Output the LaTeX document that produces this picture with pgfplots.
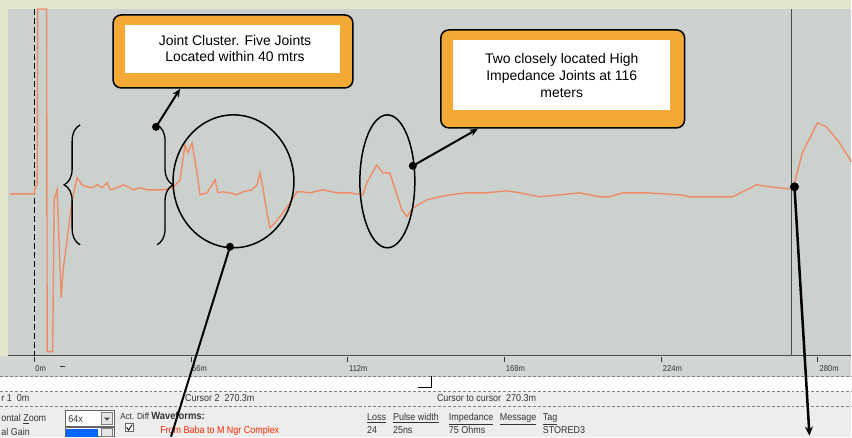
\documentclass[border=0pt]{standalone}
\usepackage{pgfplots}
\pgfplotsset{compat=1.18}
\usepackage{pgfplotstable}
\usepackage{fontspec}
\setmainfont{Liberation Sans}
\newfontfamily\narrow[FakeStretch=0.9]{Liberation Sans}
\usetikzlibrary{decorations.pathreplacing,arrows.meta}

\definecolor{outerbg}{HTML}{E3E6CC}
\definecolor{plotbg}{HTML}{CBD1CD}
\definecolor{stripbg}{HTML}{D2D6D2}
\definecolor{panelbg}{HTML}{EDEEEC}
\definecolor{trace}{HTML}{EF8C68}
\definecolor{callout}{HTML}{F3A935}
\definecolor{txt}{HTML}{333333}

\tikzset{
  pl/.style={anchor=base west,inner sep=0pt,text=txt,font=\narrow\fontsize{10}{11}\selectfont},
  tl/.style={anchor=base west,inner sep=0pt,text=txt,font=\narrow\fontsize{8.5}{9}\selectfont},
}

% TDR trace: distance (m), level (arbitrary, baseline 0)
\pgfplotstableread{
m y
-8.57 -4
0 -4
0.36 2
1.07 5
1.25 181
4.46 181
4.64 -162
6.61 -162
7.14 -10
8.21 0
9.64 -108
10.36 -80
11.79 -50
13.57 -10
15.36 12
17.14 5
18.93 3
20.71 2
22.5 5
24.29 2
26.07 7
27.14 0
29.64 2
31.79 5
33.57 3
35.36 0
37.86 2
40.36 0
42.5 0
46.07 0
49.64 2
52.14 10
53.93 45
55 37
56.43 47
58.21 17
59.29 -5
61.79 -3
64.64 10
65.71 -3
67.5 -2
70 -3
72.5 -5
74.64 -2
77.86 0
79.64 5
80.71 17
81.79 2
83.21 -23
84.29 -38
86.07 -33
88.93 -23
91.43 -13
93.93 -2
96.07 -2
98.57 -3
103.2 0
108.2 -3
112.9 -3
117.5 -5
118.9 7
122.5 25
124.6 17
127.1 17
128.9 2
131.4 -20
133.2 -27
135.4 -18
140.4 -10
145 -7
148.6 -5
154.6 -3
161.8 -3
168.9 -1
173.6 -3
180.7 -7
187.9 -5
195 -3
202.1 -7
205.7 -7
210.4 -3
218.9 -3
230.7 -5
234.3 -7
249.6 -7
258.2 5
262.9 3
270 1
271.8 7
274.6 37
280 67
283.2 63
287.9 47
292.1 28
}\tracedata

\begin{document}
\begin{tikzpicture}
\begin{axis}[width=852bp,height=437bp,scale only axis,
  xmin=0,xmax=852,ymin=0,ymax=437,y dir=reverse,
  hide axis,clip=false]

% backgrounds
\fill[outerbg] (axis cs:0,0) rectangle (axis cs:852,437);
\fill[plotbg] (axis cs:8,9) rectangle (axis cs:852,356);
\fill[stripbg] (axis cs:0,356) rectangle (axis cs:852,377);
\fill[white] (axis cs:0,377) rectangle (axis cs:852,392);
\fill[panelbg] (axis cs:0,392) rectangle (axis cs:852,437);
\draw[densely dashed,gray] (axis cs:0,377) -- (axis cs:852,377);
\draw[densely dashed,gray] (axis cs:0,392) -- (axis cs:852,392);
\draw[densely dashed,gray] (axis cs:0,407) -- (axis cs:852,407);
\draw[black!70,line width=0.8bp] (axis cs:8,356) -- (axis cs:852,356);

% ticks along the distance axis (34 + 2.8 px per metre)
\draw[txt,line width=0.6bp] (axis cs:34,357) -- (axis cs:34,362);
\draw[txt,line width=0.6bp] (axis cs:190.8,357) -- (axis cs:190.8,362);
\draw[txt,line width=0.6bp] (axis cs:347.6,357) -- (axis cs:347.6,362);
\draw[txt,line width=0.6bp] (axis cs:504.4,357) -- (axis cs:504.4,362);
\draw[txt,line width=0.6bp] (axis cs:661.2,357) -- (axis cs:661.2,362);
\draw[txt,line width=0.6bp] (axis cs:818,357) -- (axis cs:818,362);
\node[tl] at (axis cs:35,372) {0m};
\node[tl] at (axis cs:192,372) {56m};
\node[tl] at (axis cs:349,372) {112m};
\node[tl] at (axis cs:506,372) {168m};
\node[tl] at (axis cs:663,372) {224m};
\node[tl] at (axis cs:820,372) {280m};
\draw[txt,line width=0.6bp] (axis cs:60,367) -- (axis cs:65,367);
\draw[black,line width=1.2bp] (axis cs:418,388) -- (axis cs:432,388) -- (axis cs:432,376);

% cursors
\draw[black,line width=1bp,dash pattern=on 6bp off 3bp] (axis cs:34,9) -- (axis cs:34,356);
\draw[black!70,line width=0.8bp] (axis cs:792,9) -- (axis cs:792,356);

% trace
\addplot[trace,line width=1.4bp,no marks]
  table[x expr=34+2.8*\thisrow{m},y expr=190-\thisrow{y}] {\tracedata};

% panel text
\node[pl] at (axis cs:1,402) {r 1\ \ 0m};
\node[pl] at (axis cs:185,402) {Cursor 2\ \ 270.3m};
\node[pl] at (axis cs:437,402) {Cursor to cursor\ \ 270.3m};
\node[pl] at (axis cs:1,422) {ontal \underline{Z}oom};
\node[pl] at (axis cs:1,436) {al Gain};
\node[pl,font=\narrow\fontsize{9}{10}\selectfont] at (axis cs:120,420) {Act. Diff};
\node[pl,font=\narrow\fontsize{10.5}{11}\selectfont\bfseries] at (axis cs:151,420) {Waveforms:};
\node[pl,text=red!70!orange] at (axis cs:160,434) {From Baba to M Ngr Complex};
\node[pl] at (axis cs:367,421) {\underline{Loss}};
\node[pl] at (axis cs:393,421) {\underline{Pulse width}};
\node[pl] at (axis cs:449,421) {\underline{Impedance}};
\node[pl] at (axis cs:500,421) {\underline{Message}};
\node[pl] at (axis cs:543,421) {\underline{Tag}};
\node[pl] at (axis cs:367,434) {24};
\node[pl] at (axis cs:393,434) {25ns};
\node[pl] at (axis cs:449,434) {75 Ohms};
\node[pl] at (axis cs:543,434) {STORED3};
\draw[fill=white,draw=black!60] (axis cs:65,411) rectangle (axis cs:114,427);
\node[pl] at (axis cs:68,423) {64x};
\draw[fill=black!10,draw=black!50] (axis cs:101,413) rectangle (axis cs:112,425);
\fill[black!70] (axis cs:104,418) -- (axis cs:110,418) -- (axis cs:107,421) -- cycle;
\draw[fill=white,draw=black!60] (axis cs:65,428) rectangle (axis cs:114,437);
\fill[blue!60!cyan] (axis cs:66,429) rectangle (axis cs:98,437);
\draw[fill=black!10,draw=black!50] (axis cs:101,429) rectangle (axis cs:112,437);
\draw[fill=white,draw=black!60] (axis cs:125,424) rectangle (axis cs:133,432);
\draw[black,line width=0.8bp] (axis cs:126.5,427.5) -- (axis cs:128.5,430.5) -- (axis cs:132,425);

% callout boxes
\draw[black,line width=1.5bp,fill=callout,rounded corners=8bp] (axis cs:113,15) rectangle (axis cs:353,88);
\fill[white] (axis cs:125,25) rectangle (axis cs:340,73);
\node[align=center,font=\fontsize{14}{16}\selectfont,text=black] at (axis cs:235,49)
  {Joint Cluster. Five Joints\\Located within 40 mtrs};
\draw[black,line width=1.5bp,fill=callout,rounded corners=8bp] (axis cs:441,30) rectangle (axis cs:685,128);
\fill[white] (axis cs:453,40) rectangle (axis cs:670,110);
\node[align=center,font=\fontsize{14}{17}\selectfont,text=black] at (axis cs:562,76)
  {Two closely located High\\Impedance Joints at 116\\meters};

% braces
\draw[black,line width=1.3bp,decorate,decoration={brace,amplitude=16bp}]
  (axis cs:80,245) -- (axis cs:80,125);
\draw[black,line width=1.3bp,decorate,decoration={brace,amplitude=16bp}]
  (axis cs:157,125) -- (axis cs:157,245);

% circle and ellipse
\draw[black,line width=1.5bp] (axis cs:233.5,181.5) ellipse [x radius=60.5bp,y radius=66.5bp];
\draw[black,line width=1.5bp] (axis cs:387.5,181.5) ellipse [x radius=27.5bp,y radius=66.5bp];

% pointers
\draw[black,line width=2bp,-{Stealth[length=8bp,width=7bp]}] (axis cs:156,127) -- (axis cs:180,89);
\fill[black] (axis cs:156,127) circle[radius=4bp];
\draw[black,line width=2bp,-{Stealth[length=8bp,width=7bp]}] (axis cs:413,166) -- (axis cs:478,129);
\fill[black] (axis cs:413,166) circle[radius=4bp];
\draw[black,line width=2bp] (axis cs:230,247) -- (axis cs:171,437);
\fill[black] (axis cs:230,247) circle[radius=4bp];
\draw[black,line width=2.5bp,-{Stealth[length=9bp,width=8bp]}] (axis cs:795,187) -- (axis cs:810,436);
\fill[black] (axis cs:795,187) circle[radius=4.5bp];

\end{axis}
\end{tikzpicture}
\end{document}
